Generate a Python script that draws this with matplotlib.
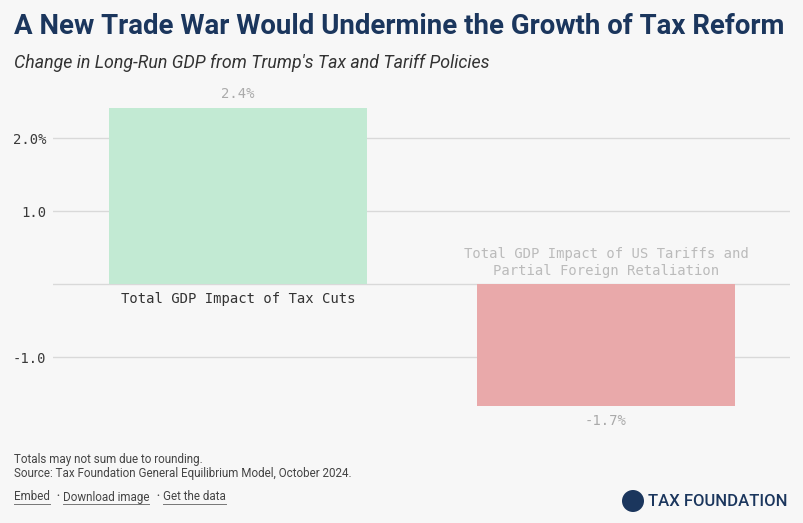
import matplotlib
matplotlib.use("Agg")
import matplotlib.pyplot as plt
from matplotlib.patches import Ellipse

categories = ["Total GDP Impact of Tax Cuts",
              "Total GDP Impact of US Tariffs and\nPartial Foreign Retaliation"]
values = [2.41, -1.67]
bar_colors = ["#c2ead3", "#e9a9aa"]
cat_colors = ["#333333", "#bbbbbb"]
yticks = [-1.0, 1.0, 2.0]
ytick_labels = ["-1.0", "1.0", "2.0%"]

W, H = 804, 523
BG = "#f7f7f7"
NAVY = "#1b365d"
fig = plt.figure(figsize=(W / 100, H / 100), dpi=100, facecolor=BG)

def fx(px):
    return px / W

def fy(py):
    return 1 - py / H

# axes in pixel coords
ax_l, ax_r, ax_t, ax_b = 53, 790, 80, 430
ax = fig.add_axes([fx(ax_l), fy(ax_b), fx(ax_r - ax_l), (ax_b - ax_t) / H])
ax.set_facecolor(BG)
unit = 73.0
zero_px = 284
ax.set_ylim((zero_px - ax_b) / unit, (zero_px - ax_t) / unit)
ax.set_xlim(-0.503, 1.5)

for s in ax.spines.values():
    s.set_visible(False)
ax.set_xticks([])
ax.set_yticks(yticks)
ax.set_yticklabels(ytick_labels, family="DejaVu Sans Mono", fontsize=10, color="#3a3a3a")
ax.tick_params(axis="y", length=0, pad=5)
for t in yticks + [0]:
    ax.axhline(t, color="#d9d9d9", lw=1, zorder=1)

x = list(range(len(values)))
ax.bar(x, values, width=0.70, color=bar_colors, zorder=2)

mono = "DejaVu Sans Mono"
for i, v in enumerate(values):
    lab = f"{v:.1f}%"
    if v >= 0:
        ax.annotate(lab, (i, v), xytext=(0, 5), textcoords="offset points",
                    ha="center", va="bottom", family=mono, fontsize=10, color="#aaaaaa")
        ax.annotate(categories[i], (i, 0), xytext=(0, -6), textcoords="offset points",
                    ha="center", va="top", family=mono, fontsize=10, color=cat_colors[i])
    else:
        ax.annotate(lab, (i, v), xytext=(0, -6), textcoords="offset points",
                    ha="center", va="top", family=mono, fontsize=10, color="#aaaaaa")
        ax.annotate(categories[i], (i, 0), xytext=(0, 4), textcoords="offset points",
                    ha="center", va="bottom", family=mono, fontsize=10, color=cat_colors[i],
                    linespacing=1.3)

# Title and subtitle
fig.text(fx(14), fy(27), "A New Trade War Would Undermine the Growth of Tax Reform",
         family="Roboto", weight="bold", fontsize=19.9, color=NAVY, va="center", ha="left")
fig.text(fx(14), fy(63), "Change in Long-Run GDP from Trump's Tax and Tariff Policies",
         family="Roboto", style="italic", fontsize=12.8, color="#333333", va="center", ha="left")

# Footer
fig.text(fx(14), fy(459), "Totals may not sum due to rounding.",
         family="Roboto", fontsize=8.4, color="#444444", va="center")
fig.text(fx(14), fy(473), "Source: Tax Foundation General Equilibrium Model, October 2024.",
         family="Roboto", fontsize=8.4, color="#444444", va="center")

links = [(14, "Embed"), (63, "Download image"), (163, "Get the data")]
bullets = [56, 156]
renderer = fig.canvas.get_renderer()
for px, txt in links:
    t = fig.text(fx(px), fy(497), txt, family="Roboto", fontsize=8.4, color="#444444", va="center")
    bb = t.get_window_extent(renderer=renderer)
    x0 = bb.x0 / W
    x1 = bb.x1 / W
    fig.add_artist(plt.Line2D([x0, x1], [fy(504), fy(504)], color="#777777", lw=0.7))
for px in bullets:
    fig.text(fx(px), fy(496), "\u2022", family="Roboto", fontsize=6, color="#444444", va="center")

# Logo
fig.add_artist(Ellipse((fx(633), fy(501)), 22 / W, 22 / H, transform=fig.transFigure,
                       facecolor=NAVY, edgecolor="none"))
fig.text(fx(648), fy(502), "TAX FOUNDATION", family="Roboto", weight="medium",
         fontsize=12, color=NAVY, va="center", ha="left")

fig.savefig("out.png", dpi=100, facecolor=BG)
